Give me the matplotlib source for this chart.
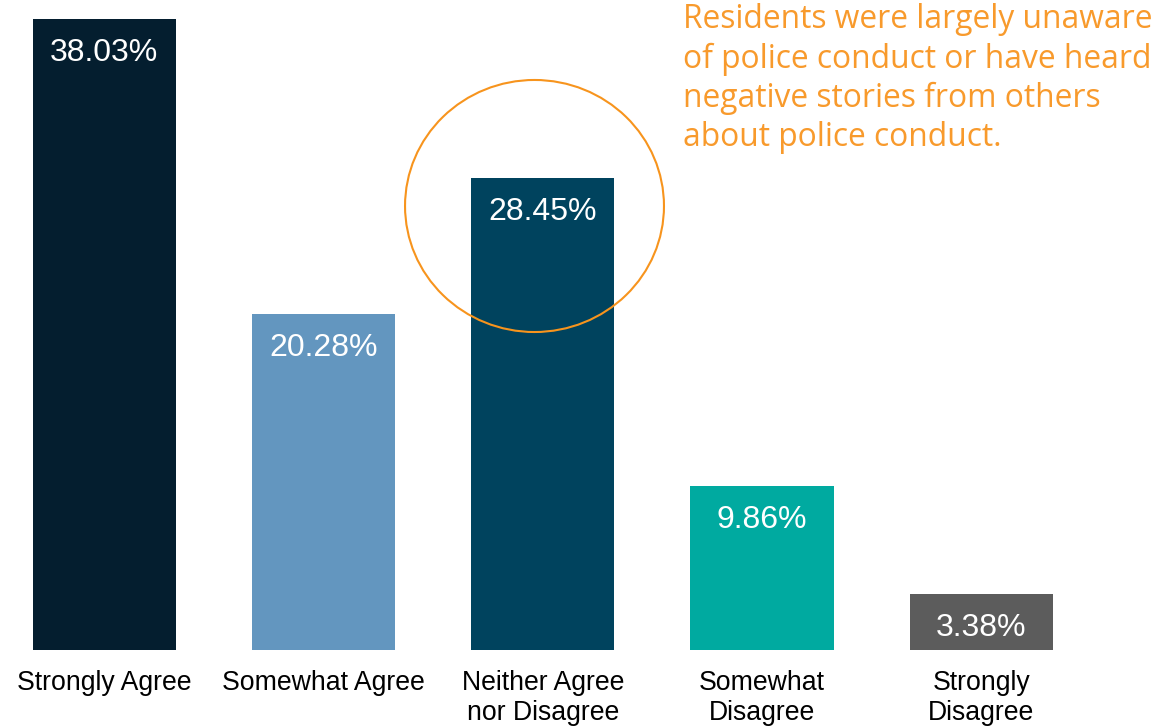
import matplotlib.pyplot as plt
from matplotlib.patches import Ellipse

categories = ["Strongly Agree", "Somewhat Agree", "Neither Agree\nnor Disagree",
              "Somewhat\nDisagree", "Strongly\nDisagree"]
shares = [38.03, 20.28, 28.45, 9.86, 3.38]
colors = ["#041e2f", "#6396bf", "#00435e", "#00aaa0", "#5c5c5c"]

note = ("Residents were largely unaware\n"
        "of police conduct or have heard\n"
        "negative stories from others\n"
        "about police conduct.")
orange = "#f7941d"

fig = plt.figure(figsize=(11.6, 7.27), dpi=100)
ax = fig.add_axes([0, 77 / 727, 1, 631 / 727])

x = range(len(categories))
bars = ax.bar(x, shares, width=0.653, color=colors)
ax.set_xlim(-0.4753, 4.8155)
ax.set_ylim(0, max(shares))

for b, v in zip(bars, shares):
    ax.annotate(f"{v:.2f}%", (b.get_x() + b.get_width() / 2, v),
                xytext=(0, -42), textcoords="offset pixels",
                ha="center", va="baseline", color="white",
                fontsize=23, family="Liberation Sans")

ax.set_xticks(list(x))
ax.set_xticklabels(categories, fontsize=19.2, family="Liberation Sans",
                   linespacing=1.2)
ax.tick_params(axis="x", length=0, pad=14.5)
ax.set_yticks([])
for s in ax.spines.values():
    s.set_visible(False)

# highlight ring around the neutral bar
ax.add_patch(Ellipse((1.9626, 26.76), 1.181, 15.19, fill=False,
                     edgecolor=orange, lw=1.5, clip_on=False))

# baseline of a multi-line text is its last line
fig.text(683 / 1160, 1 - 146 / 727, note, ha="left", va="baseline",
         color="#f89a2c", fontsize=22.9, family="Open Sans", linespacing=1.24)

fig.savefig("out.png", dpi=100)
